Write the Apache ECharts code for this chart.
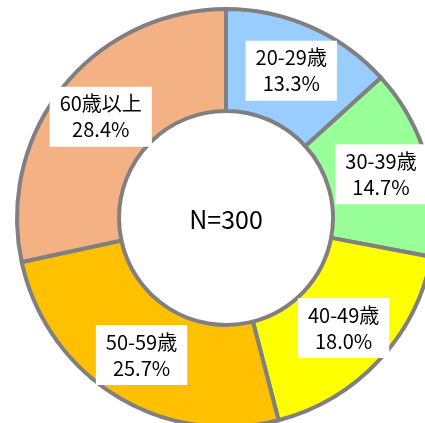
<!DOCTYPE html>
<html>
<head>
<meta charset="utf-8">
<script src="https://cdn.jsdelivr.net/npm/echarts@6/dist/echarts.min.js"></script>
<style>
  html, body { margin: 0; padding: 0; background: #fff; }
  #chart { width: 425px; height: 423px; }
</style>
</head>
<body>
<div id="chart"></div>
<script>
// age groups, clockwise from 12 o'clock
const categories = ['20-29歳', '30-39歳', '40-49歳', '50-59歳', '60歳以上']
const shares = [13.3, 14.7, 18.0, 25.7, 28.4]
const colors = ['#99CCFF', '#99FF99', '#FFFF00', '#FFC000', '#F4B183']
const totalLabel = 'N=300'

const font = '"Noto Sans CJK JP", "Noto Sans", sans-serif'
const chart = echarts.init(document.getElementById('chart'))

chart.setOption({
  animation: false,
  color: colors,
  graphic: [
    {
      type: 'text',
      x: 226,
      y: 219,
      style: {
        text: totalLabel,
        fontSize: 25,
        fontFamily: font,
        fill: '#000',
        align: 'center',
        verticalAlign: 'middle'
      }
    }
  ],
  series: [
    {
      type: 'pie',
      center: [226, 218],
      radius: [107, 209],
      startAngle: 90,
      clockwise: true,
      avoidLabelOverlap: false,
      itemStyle: {
        borderColor: '#808080',
        borderWidth: 4
      },
      label: {
        show: true,
        position: 'inside',
        formatter: p => p.name + '\n' + p.value.toFixed(1) + '%',
        fontFamily: font,
        fontSize: 20,
        lineHeight: 26,
        color: '#000',
        backgroundColor: '#fff',
        padding: [5, 10, 3, 10],
        align: 'center'
      },
      labelLine: { show: false },
      emphasis: { disabled: true },
      data: categories.map((name, i) => ({ name: name, value: shares[i] }))
    }
  ]
})
</script>
</body>
</html>
